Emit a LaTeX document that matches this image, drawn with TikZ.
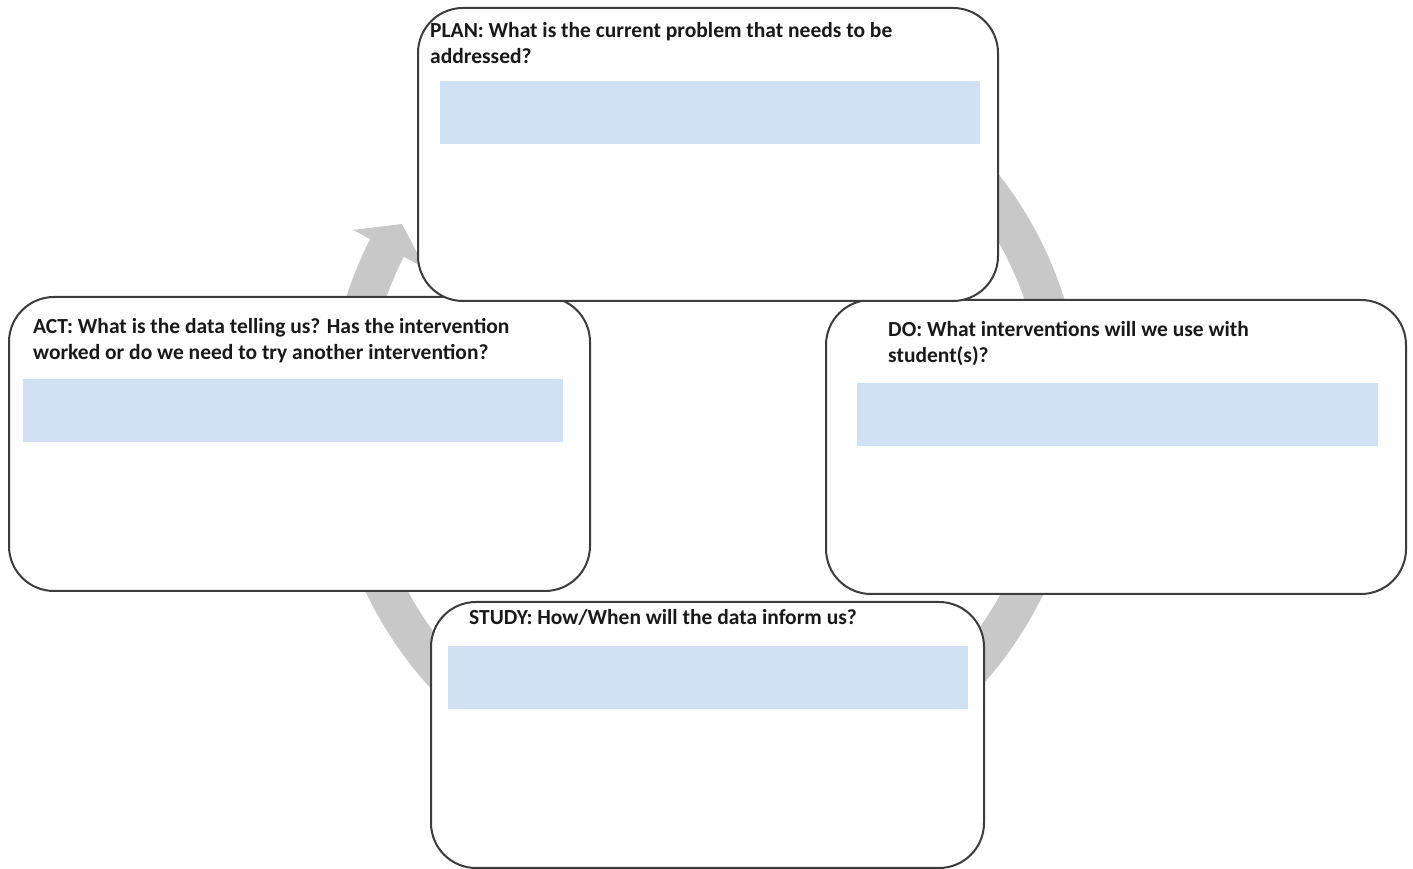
\documentclass[tikz,border=0pt]{standalone}
\usepackage{fontspec}
\setmainfont{Carlito}
\definecolor{answerblue}{RGB}{207,225,242}
\definecolor{cyclegray}{RGB}{200,200,200}
\definecolor{cardline}{RGB}{60,60,60}
\begin{document}
\begin{tikzpicture}[x=1pt,y=1pt,
  card/.style={draw=cardline, line width=2pt, fill=white, rounded corners=45pt,
    anchor=north west, inner sep=0pt},
  answer/.style={fill=answerblue, draw=none, anchor=north west, inner sep=0pt},
  prompt/.style={anchor=base west, inner sep=0pt, align=left,
    font=\fontsize{21.5}{26}\selectfont\bfseries, text=black!90}]
\useasboundingbox (0,0) rectangle (1413,869);

% clockwise cycle arrow behind the four cards
\coordinate (hub) at (705,449);
\draw[cyclegray, line width=38pt] (hub) ++(50:359 and 371)
  arc[start angle=50, end angle=-208, x radius=359, y radius=371];
\fill[cyclegray] (353,639) -- (402,645) -- (425,601) -- cycle;

% cards
\node[card, minimum width=581pt, minimum height=294pt] (act) at (8,573) {};
\node[card, minimum width=580pt, minimum height=294pt] (do) at (825,570) {};
\node[card, minimum width=580pt, minimum height=293pt] (plan) at (417,862) {};
\node[card, minimum width=553pt, minimum height=266pt] (study) at (430,268) {};

% answer fields
\node[answer, minimum width=540pt, minimum height=63pt] (plan-a) at (440,788) {};
\node[answer, minimum width=540pt, minimum height=63pt] (act-a) at (23,490) {};
\node[answer, minimum width=521pt, minimum height=63pt] (do-a) at (857,486) {};
\node[answer, minimum width=520pt, minimum height=63pt] (study-a) at (448,223) {};

% prompts (base anchor sits on the last line)
\node[prompt] (plan-q) at (430,805) {PLAN: What is the current problem that needs to be\\addressed?};
\node[prompt] (act-q) at (33,509) {ACT: What is the data telling us? Has the intervention\\worked or do we need to try another intervention?};
\node[prompt] (do-q) at (888,506) {DO: What interventions will we use with\\student(s)?};
\node[prompt] (study-q) at (469,244) {STUDY: How/When will the data inform us?};
\end{tikzpicture}
\end{document}
